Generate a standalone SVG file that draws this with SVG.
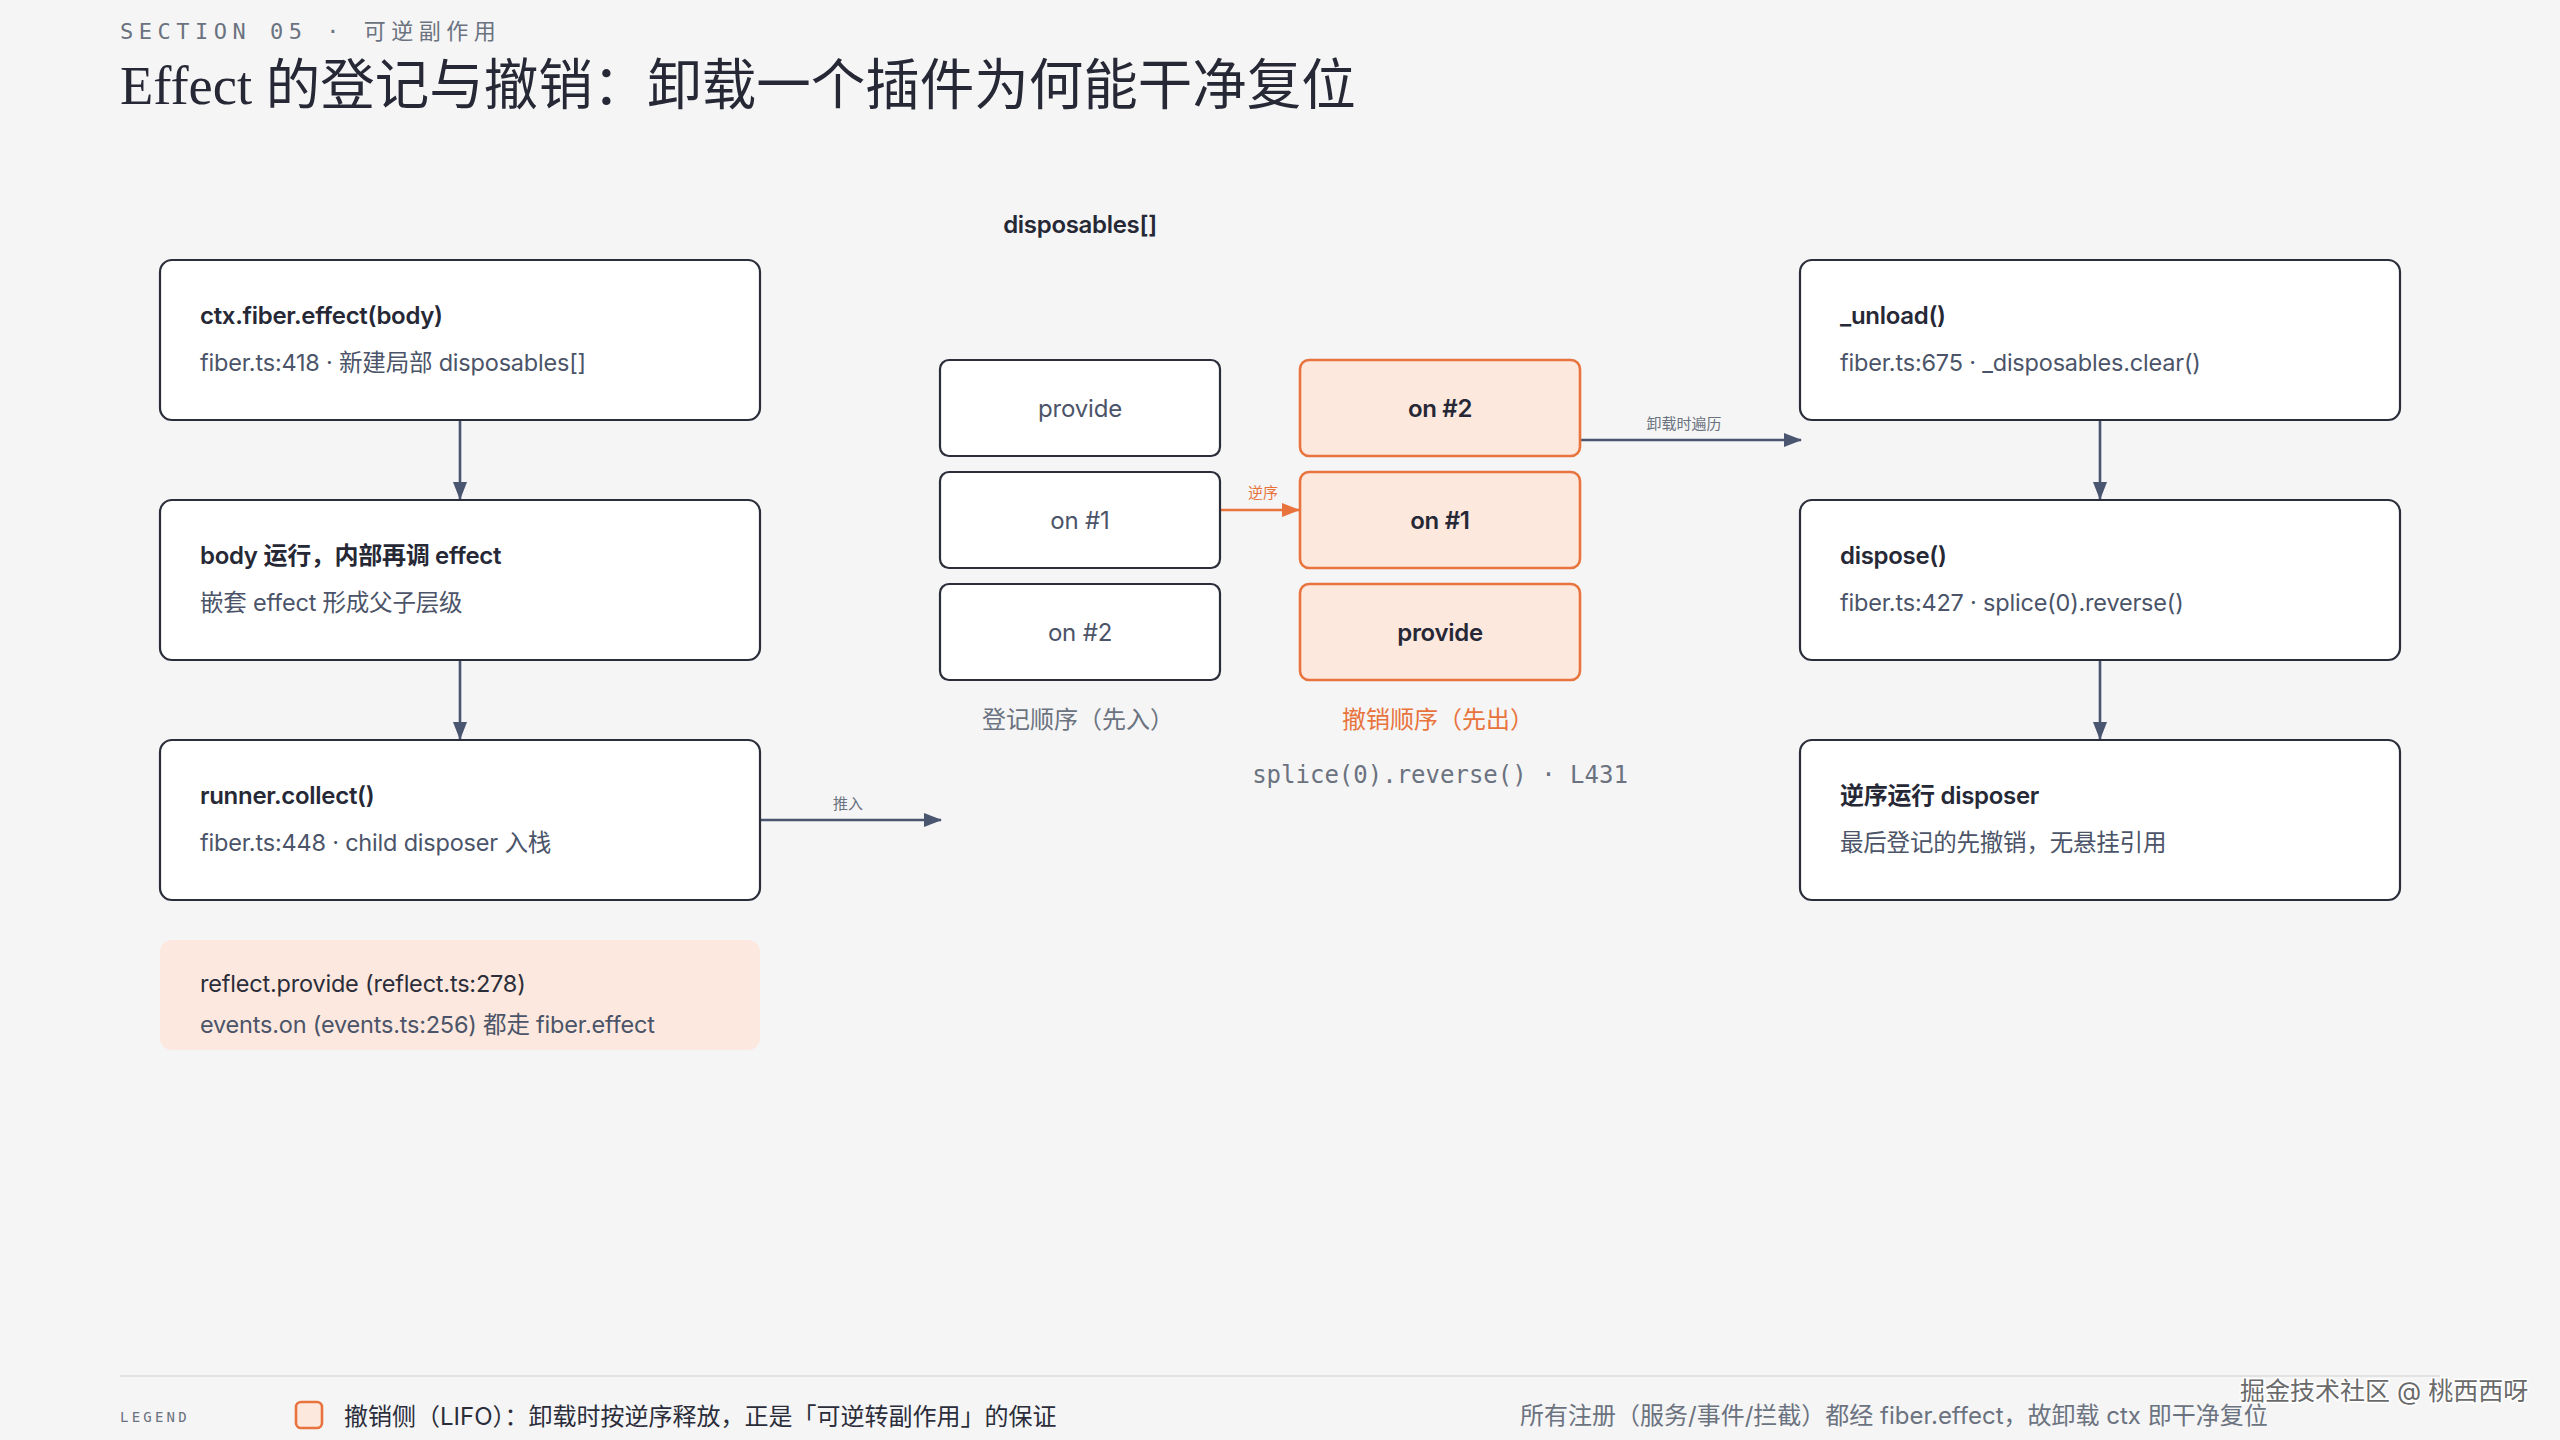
<svg xmlns="http://www.w3.org/2000/svg" width="2560" height="1440" viewBox="0 0 2560 1440">
<defs>
<style>
.bg{fill:#f5f5f5}
.box{fill:#ffffff;stroke:#2b2d3a;stroke-width:2.2}
.obox{fill:#fde8de;stroke:#e8733c;stroke-width:2.6}
.t{font-family:Inter,"Noto Sans CJK SC",sans-serif;dominant-baseline:central}
.ttl{font-size:24px;font-weight:600;fill:#262836;letter-spacing:-0.3px}
.sub{font-size:23.5px;fill:#4b5468;letter-spacing:-0.2px}
.mid{text-anchor:middle}
.lbl{font-size:15px;fill:#6b7280;text-anchor:middle}
.edge{stroke:#4a5670;stroke-width:2.6;fill:none}
.oedge{stroke:#e8733c;stroke-width:2.6;fill:none}
.mono{font-family:"DejaVu Sans Mono","Liberation Mono","Noto Sans CJK SC",monospace}
</style>
<marker id="ah" viewBox="0 0 18 14" refX="17" refY="7" markerWidth="18" markerHeight="14" markerUnits="userSpaceOnUse" orient="auto">
<path d="M0,0 L18,7 L0,14 z" fill="#4a5670"/>
</marker>
<marker id="aho" viewBox="0 0 18 14" refX="17" refY="7" markerWidth="18" markerHeight="14" markerUnits="userSpaceOnUse" orient="auto">
<path d="M0,0 L18,7 L0,14 z" fill="#e8733c"/>
</marker>
</defs>
<rect class="bg" x="0" y="0" width="2560" height="1440"/>

<g id="header">
<text class="mono" x="120" y="31" font-size="22" letter-spacing="5.5" fill="#6b7280" dominant-baseline="central">SECTION 05 · 可逆副作用</text>
<text x="120" y="104" font-size="54.5" fill="#262836" font-family="'Liberation Serif','Noto Sans CJK SC',serif">Effect 的登记与撤销：卸载一个插件为何能干净复位</text>
</g>

<g id="connectors">
<line class="edge" x1="460" y1="420" x2="460" y2="499" marker-end="url(#ah)"/>
<line class="edge" x1="460" y1="660" x2="460" y2="739" marker-end="url(#ah)"/>
<line class="edge" x1="760" y1="820" x2="941" y2="820" marker-end="url(#ah)"/>
<text class="t lbl" x="848" y="803">推入</text>
<line class="oedge" x1="1220" y1="510" x2="1299" y2="510" marker-end="url(#aho)"/>
<text class="t lbl" x="1263" y="492" style="fill:#e8733c">逆序</text>
<line class="edge" x1="1580" y1="440" x2="1801" y2="440" marker-end="url(#ah)"/>
<text class="t lbl" x="1684" y="423">卸载时遍历</text>
<line class="edge" x1="2100" y1="420" x2="2100" y2="499" marker-end="url(#ah)"/>
<line class="edge" x1="2100" y1="660" x2="2100" y2="739" marker-end="url(#ah)"/>
</g>

<g id="n-effect">
<rect class="box" x="160" y="260" width="600" height="160" rx="12"/>
<text class="t ttl" x="200" y="315">ctx.fiber.effect(body)</text>
<text class="t sub" x="200" y="362">fiber.ts:418 · 新建局部 disposables[]</text>
</g>
<g id="n-body">
<rect class="box" x="160" y="500" width="600" height="160" rx="12"/>
<text class="t ttl" x="200" y="555">body 运行，内部再调 effect</text>
<text class="t sub" x="200" y="602">嵌套 effect 形成父子层级</text>
</g>
<g id="n-collect">
<rect class="box" x="160" y="740" width="600" height="160" rx="12"/>
<text class="t ttl" x="200" y="795">runner.collect()</text>
<text class="t sub" x="200" y="842">fiber.ts:448 · child disposer 入栈</text>
</g>
<g id="n-note">
<rect x="160" y="940" width="600" height="110" rx="12" fill="#fce8de"/>
<text class="t sub" x="200" y="983" style="fill:#2b2d3a">reflect.provide (reflect.ts:278)</text>
<text class="t sub" x="200" y="1024">events.on (events.ts:256) 都走 fiber.effect</text>
</g>

<g id="n-disposables-title">
<text class="t ttl mid" x="1080" y="224">disposables[]</text>
</g>
<g id="n-reg-provide">
<rect class="box" x="940" y="360" width="280" height="96" rx="9"/>
<text class="t sub mid" x="1080" y="408" style="font-size:24px">provide</text>
</g>
<g id="n-reg-on1">
<rect class="box" x="940" y="472" width="280" height="96" rx="9"/>
<text class="t sub mid" x="1080" y="520" style="font-size:24px">on #1</text>
</g>
<g id="n-reg-on2">
<rect class="box" x="940" y="584" width="280" height="96" rx="9"/>
<text class="t sub mid" x="1080" y="632" style="font-size:24px">on #2</text>
</g>
<g id="n-un-on2">
<rect class="obox" x="1300" y="360" width="280" height="96" rx="9"/>
<text class="t ttl mid" x="1440" y="408">on #2</text>
</g>
<g id="n-un-on1">
<rect class="obox" x="1300" y="472" width="280" height="96" rx="9"/>
<text class="t ttl mid" x="1440" y="520">on #1</text>
</g>
<g id="n-un-provide">
<rect class="obox" x="1300" y="584" width="280" height="96" rx="9"/>
<text class="t ttl mid" x="1440" y="632">provide</text>
</g>
<g id="captions">
<text class="t mid" x="1078" y="719" font-size="24" fill="#6b7280">登记顺序（先入）</text>
<text class="t mid" x="1438" y="719" font-size="24" fill="#e8733c">撤销顺序（先出）</text>
<text class="mono mid" x="1440" y="775" font-size="24" fill="#6b7280" dominant-baseline="central" text-anchor="middle">splice(0).reverse() · L431</text>
</g>

<g id="n-unload">
<rect class="box" x="1800" y="260" width="600" height="160" rx="12"/>
<text class="t ttl" x="1840" y="315">_unload()</text>
<text class="t sub" x="1840" y="362">fiber.ts:675 · _disposables.clear()</text>
</g>
<g id="n-dispose">
<rect class="box" x="1800" y="500" width="600" height="160" rx="12"/>
<text class="t ttl" x="1840" y="555">dispose()</text>
<text class="t sub" x="1840" y="602">fiber.ts:427 · splice(0).reverse()</text>
</g>
<g id="n-run">
<rect class="box" x="1800" y="740" width="600" height="160" rx="12"/>
<text class="t ttl" x="1840" y="795">逆序运行 disposer</text>
<text class="t sub" x="1840" y="842">最后登记的先撤销，无悬挂引用</text>
</g>

<g id="legend">
<line x1="120" y1="1376" x2="2440" y2="1376" stroke="#e3e3e3" stroke-width="2"/>
<text class="mono" x="120" y="1417" font-size="14" letter-spacing="3.2" fill="#6b7280" dominant-baseline="central">LEGEND</text>
<rect x="296" y="1402" width="26" height="26" rx="5" fill="#fde8de" stroke="#e8733c" stroke-width="2.6"/>
<text class="t" x="344" y="1416" font-size="24" fill="#2b2d3a">撤销侧（LIFO）：卸载时按逆序释放，正是「可逆转副作用」的保证</text>
<text class="t" x="1520" y="1415" font-size="24" fill="#6b7280">所有注册（服务/事件/拦截）都经 fiber.effect，故卸载 ctx 即干净复位</text>
<text class="t" x="2240" y="1391" font-size="25" fill="#6a6a6a" stroke="#ffffff" stroke-width="3" paint-order="stroke">掘金技术社区 @ 桃西西呀</text>
</g>
</svg>
